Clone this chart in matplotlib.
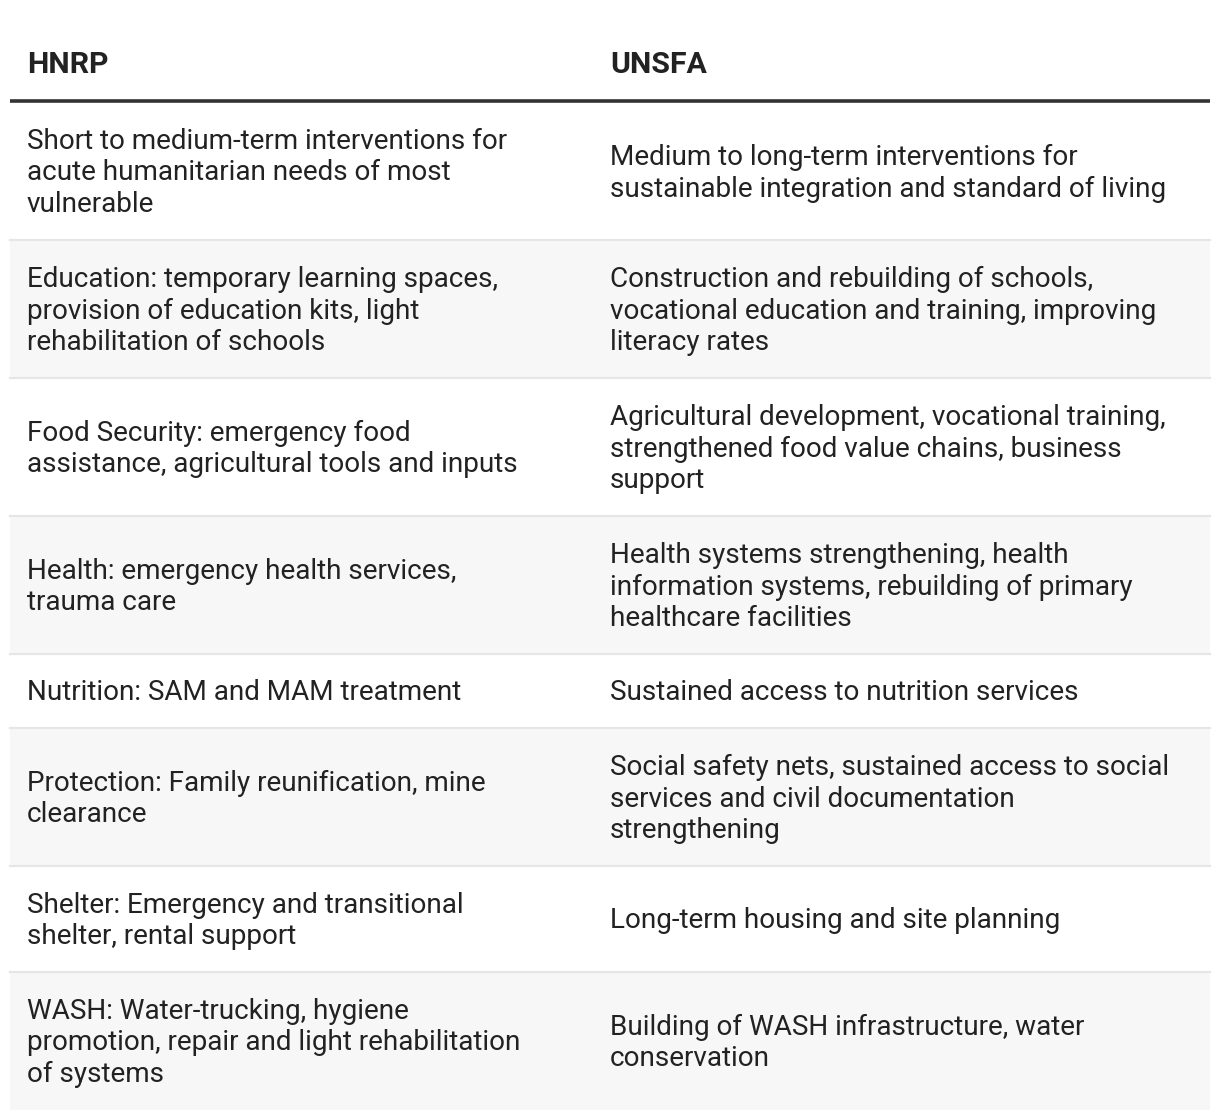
import matplotlib
matplotlib.use("Agg")
import matplotlib.pyplot as plt
from matplotlib.patches import Rectangle

plt.rcParams['font.family'] = ['Roboto', 'DejaVu Sans']

headers = ["HNRP", "UNSFA"]

hnrp = [
    "Short to medium-term interventions for\nacute humanitarian needs of most\nvulnerable",
    "Education: temporary learning spaces,\nprovision of education kits, light\nrehabilitation of schools",
    "Food Security: emergency food\nassistance, agricultural tools and inputs",
    "Health: emergency health services,\ntrauma care",
    "Nutrition: SAM and MAM treatment",
    "Protection: Family reunification, mine\nclearance",
    "Shelter: Emergency and transitional\nshelter, rental support",
    "WASH: Water-trucking, hygiene\npromotion, repair and light rehabilitation\nof systems",
]

unsfa = [
    "Medium to long-term interventions for\nsustainable integration and standard of living",
    "Construction and rebuilding of schools,\nvocational education and training, improving\nliteracy rates",
    "Agricultural development, vocational training,\nstrengthened food value chains, business\nsupport",
    "Health systems strengthening, health\ninformation systems, rebuilding of primary\nhealthcare facilities",
    "Sustained access to nutrition services",
    "Social safety nets, sustained access to social\nservices and civil documentation\nstrengthening",
    "Long-term housing and site planning",
    "Building of WASH infrastructure, water\nconservation",
]

W, H = 1220, 1118
fig = plt.figure(figsize=(W / 100, H / 100), dpi=100)
ax = fig.add_axes([0, 0, 1, 1])
ax.set_xlim(0, W)
ax.set_ylim(H, 0)
ax.axis("off")

left, right = 10, 1210
col_x = [27, 610]
line_h = 32
pad = 42
fs = 20.1
txt_color = "#222222"

# header
for x, h in zip(col_x, headers):
    ax.text(x, 65, h, fontsize=21.8, fontweight="bold", color=txt_color,
            va="center", ha="left")

y = 102
for i, (a, b) in enumerate(zip(hnrp, unsfa)):
    n = max(a.count("\n"), b.count("\n")) + 1
    rh = n * line_h + pad
    if i % 2 == 1:
        ax.add_patch(Rectangle((left, y), right - left, rh, color="#f7f7f7", lw=0, zorder=0))
    if i < len(hnrp) - 1:
        ax.plot([left, right], [y + rh, y + rh], color="#e6e6e6", lw=1.6, zorder=1)
    for x, t in zip(col_x, (a, b)):
        ax.text(x, y + rh / 2 + 2, t, fontsize=fs, color=txt_color, va="center",
                ha="left", linespacing=1.235)
    y += rh

ax.plot([left, right], [100.5, 100.5], color="#333333", lw=2.6, solid_capstyle="butt")

fig.savefig("out.png", dpi=100)
